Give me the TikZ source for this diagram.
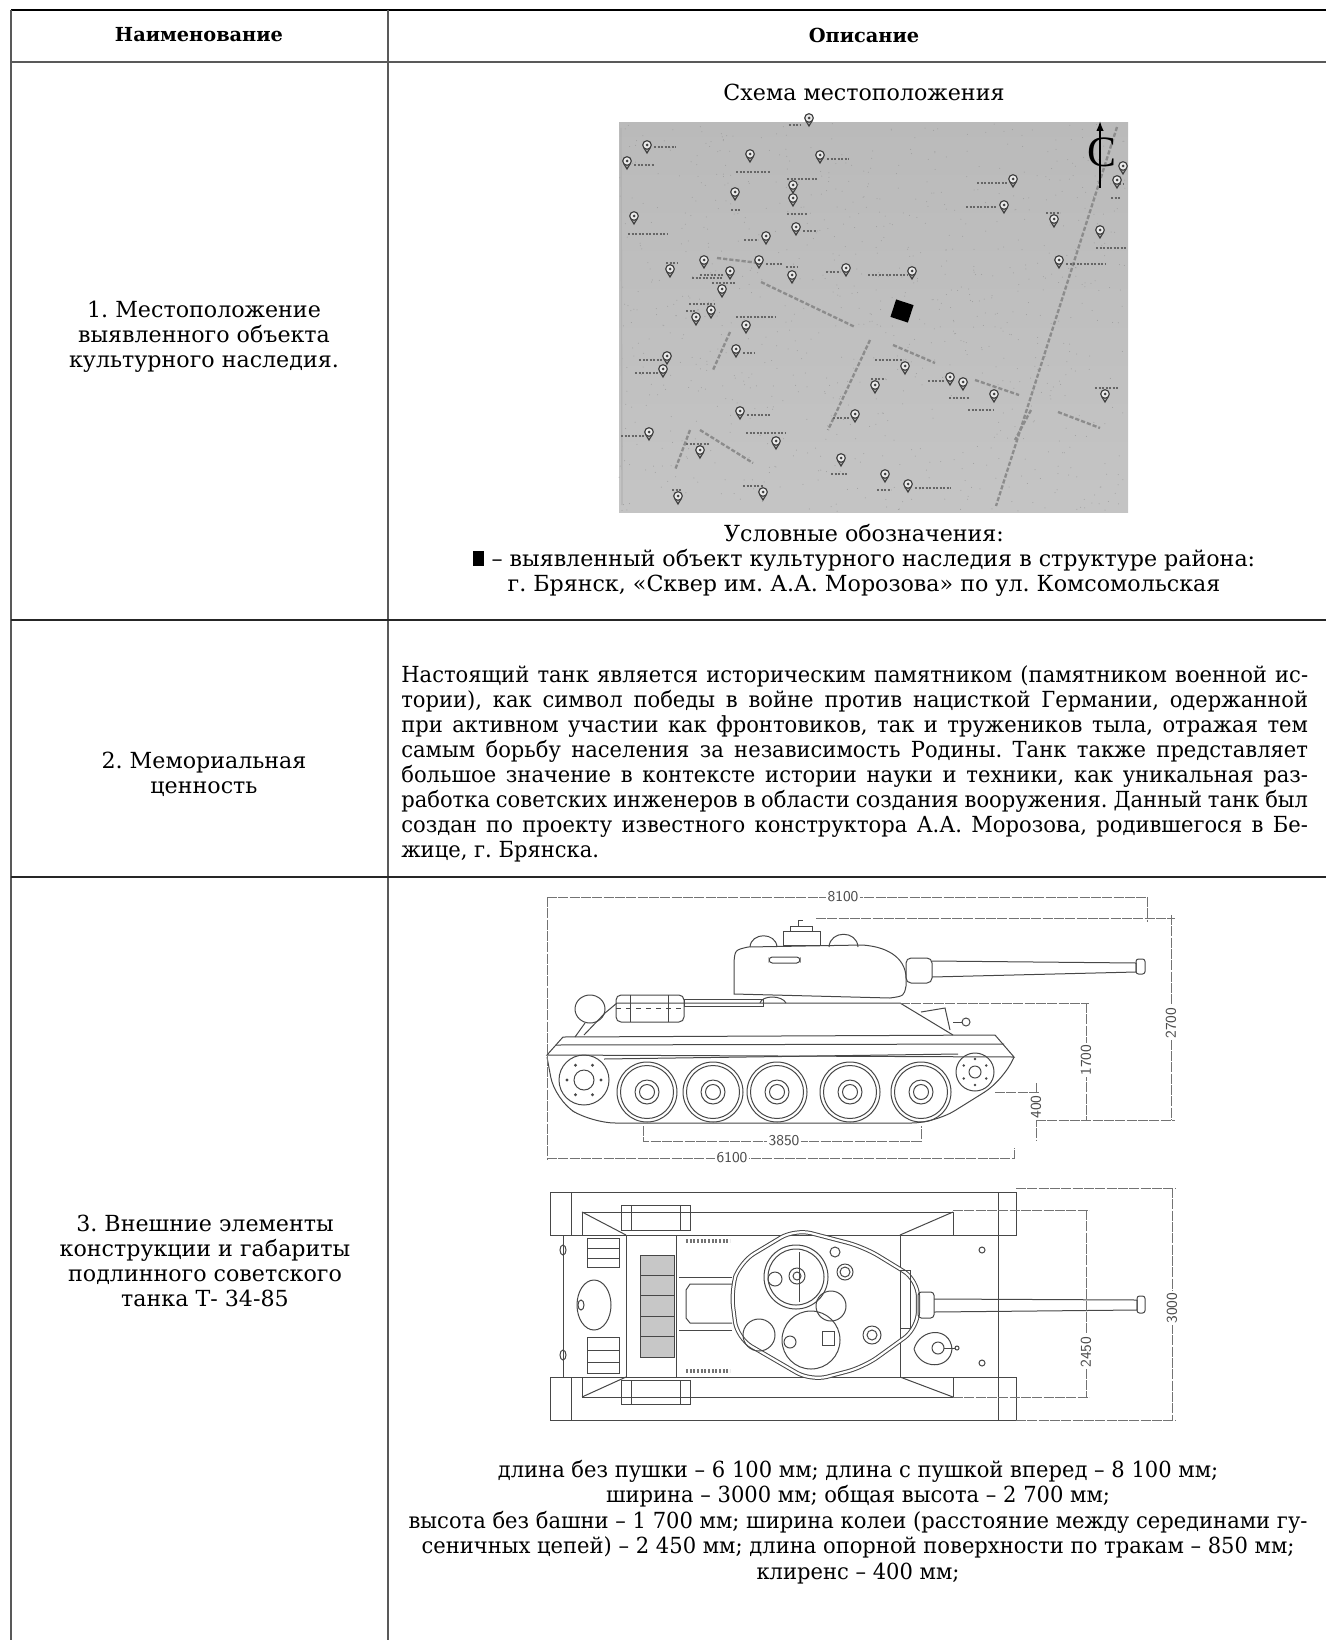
\documentclass[tikz,border=0pt]{standalone}
\usepackage{fontspec}
\setmainfont{DejaVu Serif}
\newfontfamily\narrowfont{DejaVu Serif}[FakeStretch=0.95]
\newfontfamily\northfont{Liberation Serif}
\usetikzlibrary{arrows.meta}
\frenchspacing

\newcommand{\jline}[1]{\makebox[544pt][s]{#1}}

\begin{document}
\begin{tikzpicture}[x=0.6pt, y=-0.6pt, font=\fontsize{13.3}{15}\selectfont,
    tbl/.style={line width=1.1pt, black!85},
    cell/.style={align=center, inner sep=0},
    road/.style={black!45, line width=1.4pt, dash pattern=on 2.5pt off 1.2pt},
    maptext/.style={black!60, line width=1.3pt, dash pattern=on 1.4pt off 0.7pt},
    tank/.style={black!72, line width=0.6pt},
    dimln/.style={black!55, line width=0.45pt, dash pattern=on 6pt off 0.8pt},
    dimlbl/.style={fill=white, inner sep=0.8pt, text=black!70, font=\sffamily\fontsize{9}{9}\selectfont},
    mappin/.pic={
      \draw[black!75, line width=0.7pt, fill=black!8] (0,-8) circle (4.3);
      \draw[black!75, line width=0.7pt] (-3,-5) -- (0,0) -- (3,-5);
      \fill[black!75] (0,-8) circle (1.5);
    }]
  \useasboundingbox (0,0) rectangle (1326,1640);

  % Table frame
  \draw[tbl, black] (11,10) -- (1326,10);
  \draw[tbl, black!65, line width=1.4pt] (11,10) -- (11,1640);
  \draw[tbl, black!65, line width=1.4pt] (388,10) -- (388,1640);
  \draw[tbl, black!65, line width=1.6pt] (11,62) -- (1326,62);
  \draw[tbl] (11,620) -- (1326,620);
  \draw[tbl] (11,877) -- (1326,877);

  % Header
  \node[cell, font=\fontsize{11.6}{14}\selectfont\bfseries] (hname) at (199,35) {Наименование};
  \node[cell, font=\fontsize{11.6}{14}\selectfont\bfseries] (hdesc) at (864,35) {Описание};

  % Row 1 - location
  \node[cell] (loc) at (204,337) {1. Местоположение\\выявленного объекта\\культурного наследия.};
  \node[cell] (maptitle) at (864,92) {Схема местоположения};

  % scanned map
  \shade[top color=black!27, middle color=black!10, bottom color=black!23] (619,123) rectangle (1128,512);
  \pgfmathsetseed{11}
  \foreach \i in {1,...,900}
    \fill[black!38] ({619+509*rnd},{123+389*rnd}) circle (0.5);
  \draw[black!30, line width=0.8pt] (621,128) -- (622,505);
  \draw[road] (1117,127) -- (996,506);
  \draw[road] (761,282) -- (855,327) (893,345) -- (935,363) (975,380) -- (1019,395) (1058,412) -- (1100,428);
  \draw[road] (870,340) -- (828,430);
  \draw[road] (730,332) -- (713,370);
  \draw[road] (690,430) -- (675,470);
  \draw[road] (700,430) -- (753,463);
  \draw[road] (1031,410) -- (1015,440);
  \draw[road] (717,258) -- (759,263);
  \foreach \px/\py/\lx/\ly/\lw in {809/126/-20/-1/12, 647/153/7/-6/22, 627/169/7/-4/20,
      750/162/-14/10/34, 820/163/7/-4/22, 1013/187/-36/-4/30, 1123/174/-4/10/4,
      1117/188/-6/10/10, 793/193/-6/-14/30, 793/206/-6/8/20, 735/200/-4/10/10,
      1004/213/-38/-6/30, 1054/227/-8/-14/14, 634/224/-6/10/40, 796/235/7/-4/14,
      1100/238/-4/10/30, 766/244/-22/-4/14, 1059/268/7/-4/40, 759/268/7/-4/16,
      704/268/-12/10/30, 670/277/-4/-14/12, 730/279/-30/-4/24, 792/283/-6/-16/12,
      846/276/-20/-4/14, 912/279/-44/-4/40, 722/297/-10/-14/24, 711/318/-22/-14/26,
      696/325/-10/-14/10, 746/333/-10/-16/40, 736/357/7/-4/12, 667/364/-28/-4/24,
      663/377/-28/-4/24, 905/374/-30/-14/28, 950/385/-22/-4/16, 963/390/-14/8/20,
      875/393/-4/-14/14, 994/402/-26/8/26, 1105/402/-10/-14/24, 740/419/7/-4/24,
      855/422/-22/-4/16, 649/440/-28/-4/24, 776/449/-30/-16/40, 700/458/-14/-14/24,
      841/466/-10/8/16, 885/482/-8/8/14, 908/492/7/-4/36, 763/500/-20/-14/20, 678/504/-6/-14/10}
  {
    \pic at (\px,\py) {mappin};
    \draw[maptext] (\px+\lx,\py+\ly) -- ++(\lw,0);
  }
  % object marker and north arrow
  \node[fill=black, inner sep=0, minimum size=11pt, rotate=-18] (obj) at (902,311) {};
  \coordinate (nbot) at (1100,188);
  \coordinate (ntop) at (1100,121);
  \draw[line width=0.9pt, -{Latex[length=6pt,width=4.5pt]}] (nbot) -- (ntop);
  \node[inner sep=0, font=\northfont\fontsize{26}{26}\selectfont] (north) at (1102,152) {С};

  % legend
  \node[cell] (legend) at (864,560) {Условные обозначения:\\
    \rule{7pt}{9pt} – выявленный объект культурного наследия в структуре района:\\
    г. Брянск, «Сквер им. А.А. Морозова» по ул. Комсомольская};

  % Row 2 - memorial value
  \node[cell] (memo) at (204,774) {2. Мемориальная\\ценность};
  \node[anchor=north west, inner sep=0, align=left, font=\narrowfont\fontsize{13.3}{15}\selectfont] (memtext) at (401,665)
    {\jline{Настоящий танк является историческим памятником (памятником военной ис-}\\
     \jline{тории), как символ победы в войне против нацисткой Германии, одержанной}\\
     \jline{при активном участии как фронтовиков, так и тружеников тыла, отражая тем}\\
     \jline{самым борьбу населения за независимость Родины. Танк также представляет}\\
     \jline{большое значение в контексте истории науки и техники, как уникальная раз-}\\
     \jline{работка советских инженеров в области создания вооружения. Данный танк был}\\
     \jline{создан по проекту известного конструктора А.А. Морозова, родившегося в Бе-}\\
     жице, г. Брянска.};

  % Row 3 - dimensions
  \node[cell] (parts) at (205,1261) {3. Внешние элементы\\конструкции и габариты\\подлинного советского\\танка Т- 34-85};

  % side view of the tank
  \begin{scope}[tank]
    \draw (584,1035) -- (605,1013) -- (617,1003) -- (900,1003) -- (953,1035);
    \draw (547,1055) -- (563,1037) -- (995,1035) -- (1014,1057) -- cycle;
    \draw (556,1045) -- (1004,1044);
    \draw[rounded corners=14] (547,1057) -- (555,1100) -- (592,1123) -- (935,1123) -- (1004,1080) -- (1014,1057);
    \draw (604,1059) -- (958,1054);
    \foreach \wx in {647,713,777,850,921} {
      \draw (\wx,1092) circle (30);
      \draw (\wx,1092) circle (26.5);
      \draw (\wx,1092) circle (12);
      \draw (\wx,1092) circle (7.5);
    }
    \draw (584,1080) circle (25);
    \draw (584,1080) circle (10);
    \foreach \a in {0,60,...,300}
      \fill (584,1080) ++(\a:17) circle (1.6);
    \draw (975,1072) circle (19);
    \draw (975,1072) circle (6);
    \foreach \a in {30,90,...,330}
      \fill (975,1072) ++(\a:13) circle (1.3);
    % turret and gun
    \draw (734,994) -- (734,962) .. controls (735,950) .. (748,947) -- (862,945)
      .. controls (893,947) and (906,962) .. (906,978) -- (906,986) .. controls (904,996) .. (890,998) -- cycle;
    \draw (760,1003) .. controls (762,995) and (782,995) .. (786,1003);
    \draw[rounded corners=3] (906,958) rectangle (932,983);
    \draw (932,961) -- (1136,963) -- (1136,972) -- (932,977);
    \draw[rounded corners=1.5] (1136,959) rectangle (1145,974);
    \draw (750,947) .. controls (751,932) and (776,932) .. (777,947);
    \draw (829,947) .. controls (830,930) and (857,930) .. (858,947);
    \draw (783,945) rectangle (820,931);
    \draw (790,931) rectangle (812,926);
    \draw (798,926) -- (798,920) -- (803,920);
    \draw[rounded corners=2] (769,957) rectangle (800,963);
    % fuel drums, rear
    \draw[rounded corners=3] (616,995) rectangle (684,1022);
    \draw (630,995) -- (630,1022) (668,995) -- (668,1022);
    \draw[dashed] (616,1008) -- (684,1008);
    \draw (590,1009) ellipse [x radius=15, y radius=14];
    \draw (585,1023) -- (575,1037);
    \draw (684,999) rectangle (763,1006);
    % front details
    \draw (921,1012) -- (945,1008) -- (950,1030);
    \draw (966,1022) circle (4);
    \draw (962,1022) -- (953,1022);
  \end{scope}

  % side view dimensions
  \begin{scope}[dimln]
    \draw (547,897) -- (1147,897);
    \draw (547,897) -- (547,1160);
    \draw (1147,897) -- (1147,922);
    \draw (816,918) -- (1175,918);
    \draw (1171,915) -- (1171,1120);
    \draw (1036,1120) -- (1175,1120);
    \draw (900,1003) -- (1089,1003);
    \draw (1086,1003) -- (1086,1120);
    \draw (995,1092) -- (1040,1092);
    \draw (1036,1083) -- (1036,1140);
    \draw (643,1126) -- (643,1141) -- (921,1141) -- (921,1126);
    \draw (547,1158) -- (1014,1158) -- (1014,1148);
  \end{scope}
  \node[dimlbl] (d8100) at (843,897) {8100};
  \node[dimlbl, rotate=90] (d2700) at (1171,1023) {2700};
  \node[dimlbl, rotate=90] (d1700) at (1086,1060) {1700};
  \node[dimlbl, rotate=90] (d400) at (1036,1107) {400};
  \node[dimlbl] (d3850) at (784,1141) {3850};
  \node[dimlbl] (d6100) at (732,1158) {6100};

  % top view of the tank
  \begin{scope}[tank]
    \draw (550,1192) -- (1016,1192) -- (1016,1235) -- (953,1235) -- (953,1212) -- (582,1212) -- (582,1235) -- (550,1235) -- cycle;
    \draw (550,1420) -- (1016,1420) -- (1016,1377) -- (953,1377) -- (953,1397) -- (582,1397) -- (582,1377) -- (550,1377) -- cycle;
    \draw (571,1192) -- (571,1235) (571,1377) -- (571,1420);
    \draw (998,1192) -- (998,1420);
    \draw (563,1235) -- (563,1377);
    \draw (582,1235) -- (953,1235) (582,1377) -- (953,1377);
    \draw (582,1212) -- (626,1235) (953,1212) -- (900,1235) (582,1397) -- (626,1377) (953,1397) -- (900,1377);
    \draw (626,1235) -- (626,1377) (676,1235) -- (676,1377) (900,1235) -- (900,1377);
    \draw[fill=black!22] (640,1255) rectangle (674,1357);
    \foreach \gy in {1275,1295,1316,1336}
      \draw (640,\gy) -- (674,\gy);
    \draw (621,1205) rectangle (690,1230);
    \draw (631,1205) -- (631,1230) (680,1205) -- (680,1230);
    \draw (621,1380) rectangle (690,1404);
    \draw (631,1380) -- (631,1404) (680,1380) -- (680,1404);
    \draw (587,1238) rectangle (619,1267);
    \draw (587,1248) -- (619,1248) (587,1258) -- (619,1258);
    \draw (587,1337) rectangle (619,1373);
    \draw (587,1350) -- (619,1350) (587,1362) -- (619,1362);
    \draw (594,1305) ellipse [x radius=17, y radius=25];
    \draw (581,1305) ellipse [x radius=3, y radius=5];
    \draw (563,1250) ellipse [x radius=3, y radius=5];
    \draw (563,1355) ellipse [x radius=3, y radius=5];
    \draw[black!55, line width=2pt, dash pattern=on 1.2pt off 1pt] (686,1241) -- (730,1241) (686,1371) -- (730,1371);
    \draw (732,1277) -- (679,1277) (732,1330) -- (679,1330);
    \draw (732,1284) -- (690,1284) -- (686,1290) -- (686,1318) -- (690,1323) -- (732,1323);
    \draw (982,1250) circle (3) (982,1363) circle (3);
    % turret
    \draw[double, double distance=1.3pt, rounded corners=10] (740,1262) -- (795,1229) -- (864,1247) -- (918,1280)
      -- (918,1328) -- (864,1367) -- (811,1381) -- (737,1338) -- (731,1290) -- cycle;
    \draw (900,1270) -- (910,1270) -- (910,1328) -- (900,1328);
    \draw[rounded corners=2] (918,1292) rectangle (934,1318);
    \draw (934,1299) -- (1137,1300) -- (1137,1310) -- (934,1312);
    \draw[rounded corners=1.5] (1137,1296) rectangle (1145,1313);
    \draw (796,1277) circle (32);
    \draw (796,1277) circle (28);
    \draw (775,1279) circle (7);
    \draw (797,1276) circle (8);
    \draw (797,1276) circle (4);
    \draw (799,1252) -- (799,1302);
    \draw (759,1335) circle (16);
    \draw (811,1340) circle (29);
    \draw (790,1342) circle (6);
    \draw (822,1331) rectangle (834,1345);
    \draw (831,1306) circle (15);
    \draw (835,1252) circle (5);
    \draw (845,1272) circle (8) (845,1272) circle (5);
    \draw (872,1335) circle (9) (872,1335) circle (5);
    % driver hatch
    \draw (914,1349) .. controls (920,1328) and (950,1326) .. (952,1349) .. controls (950,1370) and (920,1370) .. (914,1349);
    \draw (938,1348) circle (6);
    \draw (944,1348) -- (955,1348);
    \draw (957,1348) circle (2);
  \end{scope}

  % top view dimensions
  \begin{scope}[dimln]
    \draw (1016,1188) -- (1175,1188);
    \draw (1172,1188) -- (1172,1420);
    \draw (1016,1420) -- (1175,1420);
    \draw (953,1210) -- (1089,1210);
    \draw (1086,1210) -- (1086,1397);
    \draw (953,1397) -- (1089,1397);
  \end{scope}
  \node[dimlbl, rotate=90] (d3000) at (1172,1308) {3000};
  \node[dimlbl, rotate=90] (d2450) at (1086,1352) {2450};

  % dimension text
  \node[cell, font=\narrowfont\fontsize{13.3}{15.3}\selectfont] (dimtext) at (858,1522)
    {длина без пушки – 6 100 мм; длина с пушкой вперед – 8 100 мм;\\
    ширина – 3000 мм; общая высота – 2 700 мм;\\
    высота без башни – 1 700 мм; ширина колеи (расстояние между серединами гу-\\
    сеничных цепей) – 2 450 мм; длина опорной поверхности по тракам – 850 мм;\\
    клиренс – 400 мм;};
\end{tikzpicture}
\end{document}
